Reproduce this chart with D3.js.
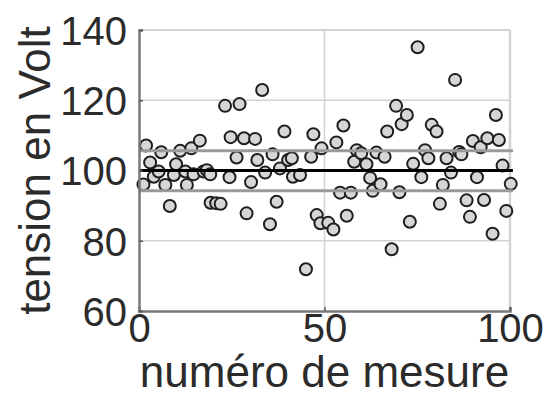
<!DOCTYPE html>
<html>
<head>
<meta charset="utf-8">
<script src="https://cdn.jsdelivr.net/npm/d3@7"></script>
<style>
  html, body { margin: 0; padding: 0; background: #fff; }
  svg text { font-family: "Liberation Sans", Arial, Helvetica, sans-serif; fill: #2b2b2b; }
</style>
</head>
<body>
<div id="chart"></div>
<script>
const measureIndex = [
  1.2, 1.9, 3.0, 4.0, 5.3, 6.0, 7.1, 8.3, 9.4, 10.0,
  11.1, 12.5, 12.9, 14.1, 14.7, 16.4, 17.4, 18.3, 19.2, 19.3,
  20.8, 22.0, 23.2, 24.4, 24.7, 26.3, 27.1, 28.3, 29.0, 30.2,
  31.3, 31.9, 33.2, 34.0, 35.3, 36.0, 37.1, 38.0, 39.2, 40.2,
  41.2, 41.5, 43.4, 45.0, 46.4, 47.0, 47.9, 48.9, 49.2, 51.0,
  52.4, 53.2, 54.2, 55.1, 56.0, 57.1, 58.0, 58.7, 59.9, 61.3,
  62.3, 63.0, 64.0, 65.1, 66.2, 66.9, 68.1, 69.3, 70.2, 70.8,
  72.2, 73.0, 73.9, 75.1, 76.1, 77.1, 78.0, 78.9, 80.2, 81.1,
  81.9, 82.9, 84.1, 85.2, 86.3, 86.9, 88.3, 89.2, 90.0, 91.1,
  92.1, 93.0, 93.9, 95.3, 96.2, 97.0, 98.0, 99.0, 100.2
];
// measured voltage
const tension = [
  96.0, 107.1, 102.3, 98.2, 99.7, 105.2, 95.9, 89.9, 98.7, 101.8,
  105.6, 99.7, 95.9, 106.3, 98.9, 108.5, 99.7, 100.1, 98.9, 90.8,
  90.7, 90.5, 118.4, 98.1, 109.5, 103.7, 118.9, 109.2, 87.8, 96.7,
  109.0, 103.0, 122.9, 99.4, 84.7, 104.6, 91.1, 100.6, 111.1, 103.0,
  103.5, 98.2, 98.7, 71.9, 103.9, 110.3, 87.3, 85.0, 106.3, 85.1,
  83.2, 108.0, 93.7, 112.8, 87.1, 93.7, 102.5, 105.8, 104.9, 101.8,
  97.9, 94.2, 105.1, 96.1, 103.9, 111.1, 77.6, 118.4, 93.8, 113.2,
  115.8, 85.4, 101.9, 135.1, 98.1, 105.8, 103.5, 113.0, 111.1, 90.5,
  95.9, 103.5, 99.4, 125.8, 105.3, 104.6, 91.5, 86.8, 108.4, 98.1,
  106.6, 91.6, 109.2, 82.0, 115.8, 108.7, 101.4, 88.5, 96.2
];
const meanValue = 100;
const bandValues = [94.2, 105.6];
const xTicks = [0, 50, 100];
const yTicks = [60, 80, 100, 120, 140];
const lineSpan = [0, 100.8];

const width = 549, height = 400;
const margin = {top: 30, right: 39, bottom: 89, left: 139};
const plotW = width - margin.left - margin.right;
const plotH = height - margin.top - margin.bottom;

const x = d3.scaleLinear().domain([0, 100]).range([0, plotW]);
const y = d3.scaleLinear().domain([60, 140]).range([plotH, 0]);

const svg = d3.select('#chart').append('svg')
  .attr('width', width)
  .attr('height', height);

const g = svg.append('g')
  .attr('transform', 'translate(' + margin.left + ',' + margin.top + ')');

// grid
g.append('g').selectAll('line').data(yTicks.slice(1, -1)).join('line')
  .attr('x1', 0).attr('x2', plotW)
  .attr('y1', d => y(d)).attr('y2', d => y(d))
  .attr('stroke', '#d2d2d2').attr('stroke-width', 1.5);
g.append('g').selectAll('line').data(xTicks.slice(1, -1)).join('line')
  .attr('x1', d => x(d)).attr('x2', d => x(d))
  .attr('y1', 0).attr('y2', plotH)
  .attr('stroke', '#d2d2d2').attr('stroke-width', 1.5);

// box: top/right light, left/bottom darker
g.append('line').attr('x1', 0).attr('x2', plotW).attr('y1', 0).attr('y2', 0)
  .attr('stroke', '#d2d2d2').attr('stroke-width', 2);
g.append('line').attr('x1', plotW).attr('x2', plotW).attr('y1', 0).attr('y2', plotH)
  .attr('stroke', '#d2d2d2').attr('stroke-width', 2.5);

// points
g.append('g').selectAll('circle').data(measureIndex).join('circle')
  .attr('cx', d => x(d))
  .attr('cy', (d, i) => y(tension[i]))
  .attr('r', 6)
  .attr('fill', '#d6d6d6')
  .attr('stroke', '#1e1e1e')
  .attr('stroke-width', 2);

// band and mean lines
g.append('g').selectAll('line').data(bandValues).join('line')
  .attr('x1', x(lineSpan[0])).attr('x2', x(lineSpan[1]))
  .attr('y1', d => y(d)).attr('y2', d => y(d))
  .attr('stroke', '#9a9a9a').attr('stroke-width', 3);
g.append('line')
  .attr('x1', x(lineSpan[0])).attr('x2', x(lineSpan[1]))
  .attr('y1', y(meanValue)).attr('y2', y(meanValue))
  .attr('stroke', '#000').attr('stroke-width', 3);

// axes
const xAxis = g.append('g')
  .attr('transform', 'translate(0,' + plotH + ')')
  .call(d3.axisBottom(x).tickValues(xTicks).tickSize(-4).tickPadding(2).tickFormat(d3.format('d')));
const yAxis = g.append('g')
  .call(d3.axisLeft(y).tickValues(yTicks).tickSize(-4).tickPadding(12).tickFormat(d3.format('d')));

[xAxis, yAxis].forEach(a => {
  a.select('.domain').attr('stroke', '#7a7a7a').attr('stroke-width', 2.5);
  a.selectAll('.tick line').attr('stroke', '#555').attr('stroke-width', 1.5);
  a.selectAll('.tick text').style('font-size', '40px').attr('fill', '#2b2b2b');
});
xAxis.selectAll('.tick text').attr('dy', '0.72em');
yAxis.selectAll('.tick text').attr('dy', '0.36em');

// axis titles
svg.append('text')
  .attr('x', margin.left + plotW / 2)
  .attr('y', 387)
  .attr('text-anchor', 'middle')
  .style('font-size', '44px')
  .text('numéro de mesure');

svg.append('text')
  .attr('transform', 'translate(50,' + (margin.top + plotH / 2) + ') rotate(-90)')
  .attr('text-anchor', 'middle')
  .style('font-size', '44px')
  .text('tension en Volt');
</script>
</body>
</html>
